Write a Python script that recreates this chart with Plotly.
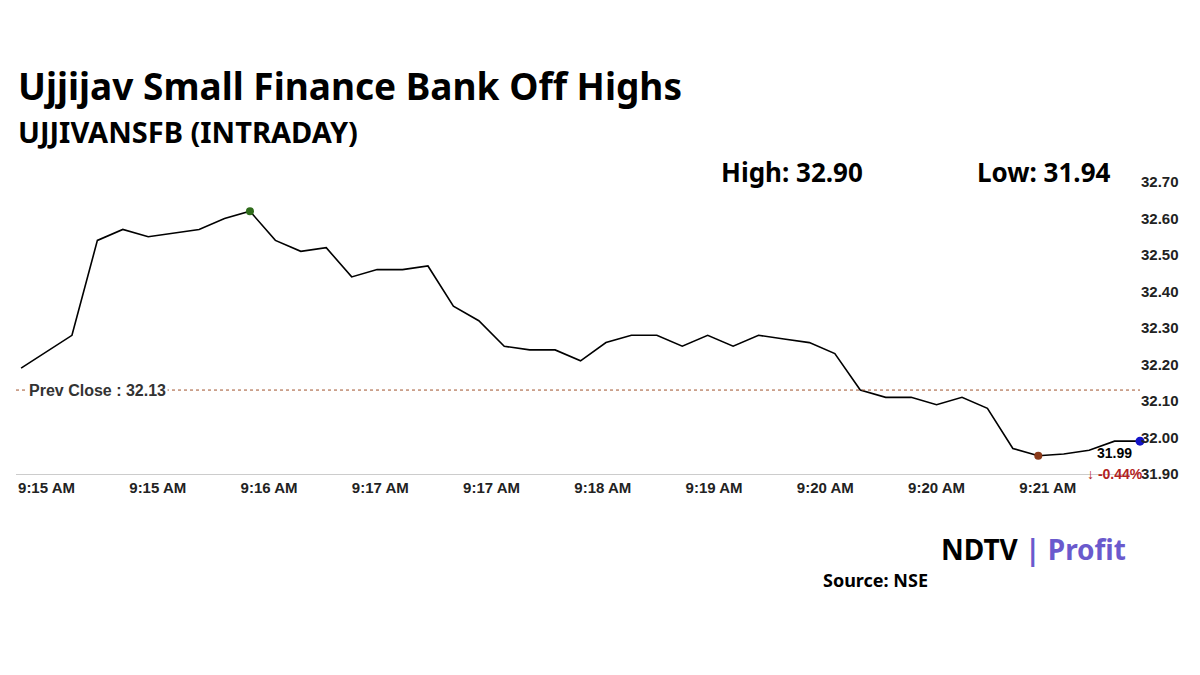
import plotly.graph_objects as go

prices = [32.19, 32.235, 32.28, 32.54, 32.57, 32.55, 32.56, 32.57, 32.60, 32.62,
          32.54, 32.51, 32.52, 32.44, 32.46, 32.46, 32.47, 32.36, 32.32, 32.25,
          32.24, 32.24, 32.21, 32.26, 32.28, 32.28, 32.25, 32.28, 32.25, 32.28,
          32.27, 32.26, 32.23, 32.13, 32.11, 32.11, 32.09, 32.11, 32.08, 31.97,
          31.95, 31.955, 31.965, 31.99, 31.99]
tick_labels = ["9:15 AM", "9:15 AM", "9:16 AM", "9:17 AM", "9:17 AM", "9:18 AM",
               "9:19 AM", "9:20 AM", "9:20 AM", "9:21 AM"]
y_ticks = [31.90, 32.00, 32.10, 32.20, 32.30, 32.40, 32.50, 32.60, 32.70]
prev_close = 32.13
high_val, low_val = 32.90, 31.94
change_pct = -0.44

x = list(range(len(prices)))
tick_pos = [1 + 4.375 * i for i in range(len(tick_labels))]
hi_i = prices.index(max(prices))
lo_i = prices.index(min(prices))
last = len(prices) - 1

fig = go.Figure()
fig.add_trace(go.Scatter(x=x, y=prices, mode="lines", line=dict(color="black", width=1.6), hoverinfo="skip"))
fig.add_trace(go.Scatter(x=[hi_i], y=[prices[hi_i]], mode="markers", marker=dict(color="#2e6b1a", size=8), cliponaxis=False))
fig.add_trace(go.Scatter(x=[lo_i], y=[prices[lo_i]], mode="markers", marker=dict(color="#8b3a1a", size=8), cliponaxis=False))
fig.add_trace(go.Scatter(x=[last], y=[prices[last]], mode="markers", marker=dict(color="#1414c8", size=9), cliponaxis=False))
fig.add_shape(type="line", xref="paper", x0=0, x1=1, y0=prev_close, y1=prev_close,
              line=dict(color="#a0522d", width=1, dash="dot"))
fig.add_annotation(xref="paper", x=0.01, y=prev_close, text="<b>Prev Close : %.2f</b>" % prev_close,
                   showarrow=False, xanchor="left", bgcolor="white",
                   font=dict(family="Liberation Sans", size=16, color="#333"))
fig.add_annotation(x=last - 1.0, y=prices[last], text="<b>%.2f</b>" % prices[last], showarrow=False,
                   yshift=-12, xanchor="center", font=dict(family="Liberation Sans", size=14, color="black"))
fig.add_annotation(x=last - 1.0, y=prices[last], text="<b>↓ %.2f%%</b>" % change_pct, showarrow=False,
                   yshift=-33, xanchor="center", font=dict(family="Liberation Sans", size=14, color="#b22222"))

tf = dict(family="Liberation Sans", size=15, color="#222", weight=600)
fig.update_layout(
    width=1200, height=675, paper_bgcolor="white", plot_bgcolor="white", showlegend=False,
    margin=dict(l=8, r=68, t=174, b=209),
    xaxis=dict(range=[-0.2, last], tickvals=tick_pos, ticktext=tick_labels, showgrid=False,
               showline=True, linecolor="#ccc", ticks="", zeroline=False, tickfont=tf),
    yaxis=dict(range=[31.90, 32.70], side="right", tickvals=y_ticks, tickformat=".2f",
               showgrid=False, zeroline=False, ticks="", tickfont=tf),
)
fig.add_annotation(xref="paper", yref="paper", x=0.0, y=1.0, yshift=124, xanchor="left", showarrow=False,
                   text="<b>Ujjijav Small Finance Bank Off Highs</b>",
                   font=dict(family="Noto Sans", size=37, color="black"))
fig.add_annotation(xref="paper", yref="paper", x=0.0, y=1.0, yshift=72, xanchor="left", showarrow=False,
                   text="<b>UJJIVANSFB (INTRADAY)</b>", font=dict(family="Noto Sans", size=29, color="black"))
fig.add_annotation(xref="paper", yref="paper", x=0.69, y=1.0, yshift=30, xanchor="center", showarrow=False,
                   text="<b>High: %.2f</b>" % high_val, font=dict(family="Noto Sans", size=26, color="black"))
fig.add_annotation(xref="paper", yref="paper", x=0.915, y=1.0, yshift=30, xanchor="center", showarrow=False,
                   text="<b>Low: %.2f</b>" % low_val, font=dict(family="Noto Sans", size=26, color="black"))
fig.add_annotation(xref="paper", yref="paper", x=0.905, y=0, yshift=-96, xanchor="center", showarrow=False,
                   text="<b>NDTV</b> <span style='color:#6a5acd'><b>| Profit</b></span>",
                   font=dict(family="Noto Sans", size=28, color="black"))
fig.add_annotation(xref="paper", yref="paper", x=0.765, y=0, yshift=-120, xanchor="center", showarrow=False,
                   text="<b>Source: NSE</b>", font=dict(family="Noto Sans", size=18, color="black"))
fig.write_html("out.html")
